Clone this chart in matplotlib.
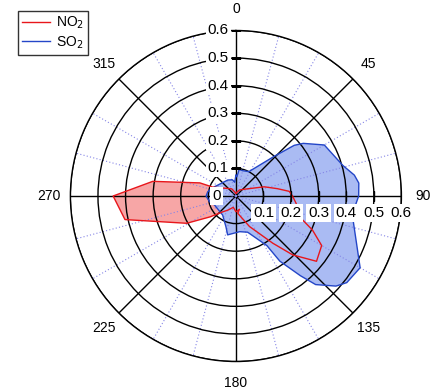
import numpy as np
import matplotlib
matplotlib.use('Agg')
import matplotlib.pyplot as plt

plt.rcParams['font.family'] = ['Liberation Sans', 'DejaVu Sans']

# wind-direction contributions (direction in degrees, value)
no2_dir = [0, 30, 51, 72, 80, 85, 90, 97, 108, 114, 120, 129, 136, 142, 156,
           174, 165, 180, 193, 209, 219, 231, 241, 258, 270, 280, 290, 291, 330]
no2_val = [0.01, 0.025, 0.039, 0.108, 0.153, 0.194, 0.205, 0.22, 0.242, 0.304,
           0.359, 0.376, 0.297, 0.217, 0.121, 0.063, 0.05, 0.057, 0.042, 0.058,
           0.073, 0.12, 0.204, 0.411, 0.445, 0.306, 0.139, 0.09, 0.03]

so2_dir = [0, 3, 7, 15, 28, 44, 49, 52, 60, 74, 80, 84, 90, 99, 120, 128, 132,
           138, 141, 146, 148, 162, 174, 192, 198, 215, 247, 258, 270, 279, 293,
           333, 348, 355]
so2_val = [0.075, 0.07, 0.097, 0.095, 0.1, 0.2, 0.28, 0.31, 0.37, 0.403, 0.436,
           0.448, 0.445, 0.427, 0.52, 0.51, 0.488, 0.432, 0.372, 0.285, 0.212,
           0.138, 0.13, 0.144, 0.117, 0.084, 0.084, 0.098, 0.108, 0.103, 0.085,
           0.065, 0.06, 0.05]

r_ticks = [0.1, 0.2, 0.3, 0.4, 0.5, 0.6]
angle_ticks = [0, 45, 90, 135, 180, 225, 270, 315]

fig = plt.figure(figsize=(4.35, 3.91), dpi=100)
ax = fig.add_axes([0.1618, 0.0752, 0.761, 0.847], projection='polar')
ax.set_theta_zero_location('N')
ax.set_theta_direction(-1)
ax.set_ylim(0, 0.6)

# grid: black rings and spokes, dotted blue minor spokes, drawn above the fills
ax.set_rgrids(r_ticks, labels=[''] * len(r_ticks))
ax.yaxis.grid(True, color='black', lw=1.0, ls='-')
ax.set_xticks(np.deg2rad(angle_ticks))
ax.set_xticklabels([str(a) for a in angle_ticks], fontsize=10)
minor = [a for a in range(0, 360, 15) if a % 45]
ax.set_xticks(np.deg2rad(minor), minor=True)
ax.xaxis.grid(True, which='major', color='black', lw=1.0, ls='-')
ax.xaxis.grid(True, which='minor', color='#8585e6', lw=0.8, ls=(0, (1, 2)))
ax.tick_params(axis='x', which='both', direction='inout', length=5, width=0.8, pad=6)
ax.spines['polar'].set_linewidth(1.0)
ax.set_axisbelow(False)

t_no2 = np.deg2rad(no2_dir)
t_so2 = np.deg2rad(so2_dir)
ax.fill(t_no2, no2_val, color='#f7a6a6', lw=0, zorder=1)
ax.fill(t_so2, so2_val, color='#aabbf3', lw=0, zorder=1.5)
ax.plot(np.append(t_so2, t_so2[0]), so2_val + so2_val[:1], color='#2446c8', lw=1.0,
        zorder=4, label='SO$_2$')
ax.plot(np.append(t_no2, t_no2[0]), no2_val + no2_val[:1], color='#e8161b', lw=1.0,
        zorder=5, label='NO$_2$')

# radial tick marks and labels along the 0 and 90 spokes
box = dict(boxstyle='square,pad=0.12', fc='white', ec='none')
for r in r_ticks:
    ax.plot([0], [r], marker='_', ms=7, color='black', mew=1.0, zorder=6)
    ax.plot([np.pi / 2], [r], marker='|', ms=7, color='black', mew=1.0, zorder=6)
    ax.annotate(f'{r:.1f}', (0, r), xytext=(-5, 0), textcoords='offset points',
                ha='right', va='center', fontsize=11, zorder=7, bbox=box)
    ax.annotate(f'{r:.1f}', (np.pi / 2, r), xytext=(0, -12), textcoords='offset points',
                ha='center', va='center', fontsize=11, zorder=7, bbox=box)
ax.annotate('0', (0, 0), xytext=(-14, 0), textcoords='offset points',
            ha='center', va='center', fontsize=11, zorder=7, bbox=box)

h, l = ax.get_legend_handles_labels()
fig.legend(h[::-1], l[::-1], loc='upper left', bbox_to_anchor=(0.026, 0.99),
           fontsize=10, frameon=True, fancybox=False, edgecolor='black',
           handlelength=2.0, handletextpad=0.4, borderpad=0.3, labelspacing=0.2)

fig.savefig('out.png', dpi=100)
